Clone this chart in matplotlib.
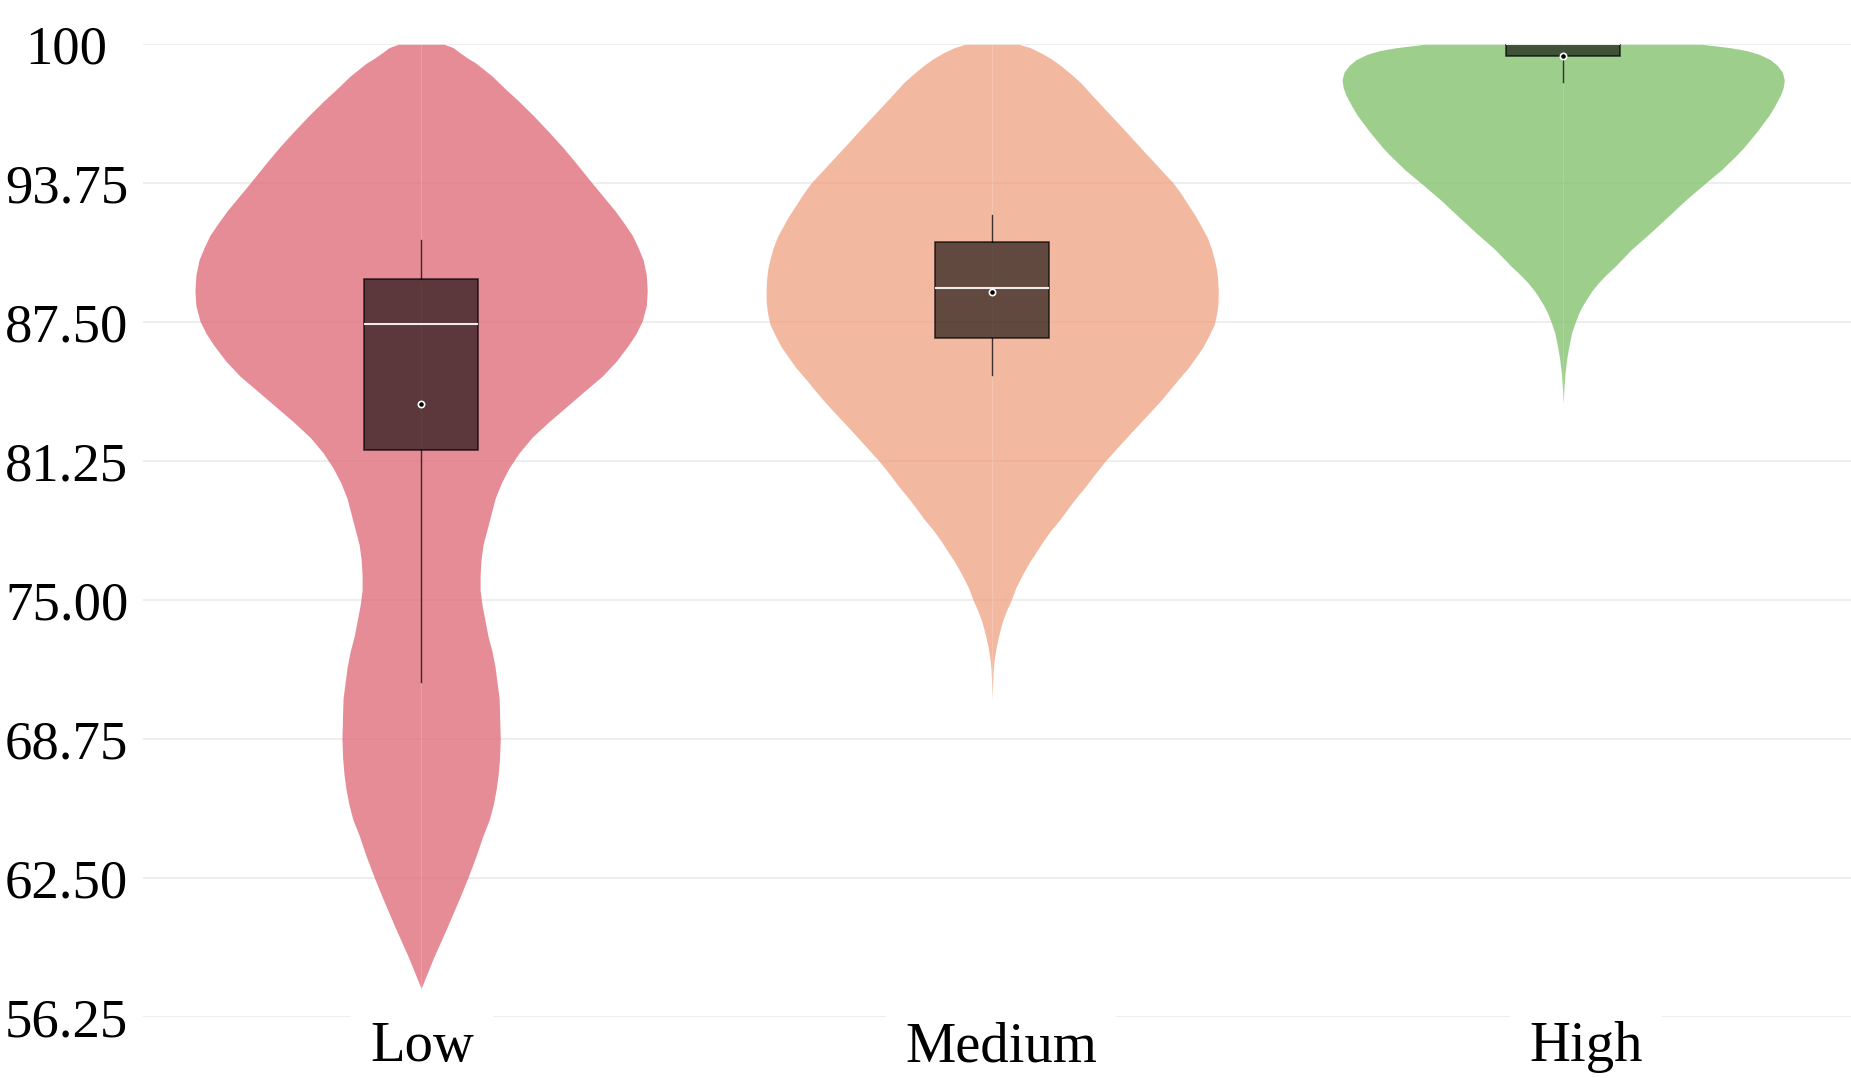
import matplotlib.pyplot as plt
import matplotlib.transforms as mtransforms
import numpy as np

plt.rcParams['font.family'] = ['Liberation Serif', 'DejaVu Serif']

categories = ['Low', 'Medium', 'High']
colors = ['#DE6673', '#F0A080', '#7CBE66']

# violin outlines: score value and relative density (1 = widest)
low_y = [100.0, 99.85, 99.65, 99.39, 99.15, 98.57, 98.0, 97.47, 96.8, 96.09, 95.4, 94.71,
         93.75, 93.1, 92.51, 91.95, 91.41, 90.85, 90.31, 89.62, 88.93, 88.25, 87.56, 87.0,
         86.46, 85.75, 85.08, 84.39, 83.7, 83.0, 82.33, 81.64, 80.95, 80.26, 79.57, 78.9,
         78.2, 77.5, 76.82, 76.13, 75.44, 74.76, 74.07, 73.38, 72.69, 72.0, 71.31, 70.6,
         69.94, 68.78, 67.9, 67.18, 66.5, 65.81, 65.12, 64.43, 63.5, 62.56, 61.68, 60.3,
         58.93, 57.55]
low_d = [0.102, 0.142, 0.168, 0.204, 0.243, 0.314, 0.372, 0.429, 0.496, 0.562, 0.624, 0.681,
         0.757, 0.810, 0.858, 0.898, 0.934, 0.960, 0.982, 0.996, 1.0, 0.996, 0.978, 0.951,
         0.916, 0.863, 0.801, 0.721, 0.642, 0.562, 0.491, 0.434, 0.389, 0.354, 0.327, 0.310,
         0.292, 0.274, 0.265, 0.261, 0.261, 0.270, 0.283, 0.296, 0.314, 0.327, 0.336, 0.345,
         0.347, 0.350, 0.347, 0.341, 0.332, 0.319, 0.301, 0.274, 0.243, 0.208, 0.173, 0.115,
         0.055, 0.0]

med_y = [100.0, 99.85, 99.61, 99.35, 99.03, 98.65, 98.25, 97.75, 97.27, 96.78, 96.3, 95.81,
         95.32, 94.83, 94.34, 93.76, 93.27, 92.78, 92.3, 91.81, 91.32, 90.83, 90.35, 89.86,
         89.35, 88.88, 88.37, 87.91, 87.4, 86.93, 86.42, 85.96, 85.45, 84.98, 84.5, 84.01,
         83.52, 83.03, 82.55, 82.06, 81.26, 80.7, 80.11, 79.62, 79.14, 78.65, 78.16, 77.67,
         77.18, 76.7, 76.21, 75.6, 75.0, 74.5, 74.07, 73.5, 72.9, 72.4, 71.92, 71.2, 70.55]
med_d = [0.119, 0.168, 0.217, 0.261, 0.305, 0.350, 0.394, 0.438, 0.482, 0.527, 0.571, 0.615,
         0.659, 0.704, 0.748, 0.801, 0.836, 0.867, 0.898, 0.925, 0.951, 0.969, 0.982, 0.993,
         0.998, 1.0, 0.999, 0.993, 0.982, 0.960, 0.934, 0.903, 0.867, 0.827, 0.788, 0.748,
         0.704, 0.659, 0.615, 0.571, 0.500, 0.456, 0.412, 0.372, 0.336, 0.301, 0.261, 0.226,
         0.195, 0.164, 0.137, 0.106, 0.084, 0.062, 0.046, 0.031, 0.018, 0.010, 0.005, 0.002, 0.0]

high_y = [100.0, 99.93, 99.84, 99.72, 99.55, 99.31, 99.05, 98.75, 98.4, 98.05, 97.7, 97.21,
          96.83, 96.46, 96.09, 95.71, 95.33, 94.96, 94.35, 93.75, 93.02, 92.27, 91.52, 90.77,
          90.02, 89.64, 89.27, 88.9, 88.52, 88.22, 87.92, 87.47, 87.02, 86.42, 85.82, 85.22,
          84.47, 83.87]
high_d = [0.611, 0.673, 0.743, 0.810, 0.867, 0.916, 0.947, 0.969, 0.978, 0.973, 0.960, 0.934,
          0.912, 0.885, 0.858, 0.827, 0.796, 0.761, 0.699, 0.628, 0.544, 0.465, 0.385, 0.301,
          0.230, 0.190, 0.155, 0.126, 0.102, 0.084, 0.069, 0.052, 0.037, 0.025, 0.015, 0.008,
          0.003, 0.0]

# box plot summary per group
q1 = [81.76, 86.81, 99.47]
medians = [87.41, 89.06, 100.0]
q3 = [89.46, 91.12, 100.0]
whislo = [71.34, 85.13, 98.32]
whishi = [91.20, 92.32, 100.0]
means = [83.81, 88.86, 99.49]

yticks = [56.25, 62.5, 68.75, 75.0, 81.25, 87.5, 93.75, 100.0]
ytick_labels = ['56.25', '62.50', '68.75', '75.00', '81.25', '87.50', '93.75', '100']

fig = plt.figure(figsize=(18.51, 10.78), dpi=100)
ax = fig.add_axes([143 / 1851, 0.0563, 1708 / 1851, 0.9026])

half_width = 0.396
profiles = [(low_y, low_d), (med_y, med_d), (high_y, high_d)]
for i, (ys, ds) in enumerate(profiles):
    hw = np.array(ds) * half_width
    # two halves, like the original, which leaves a faint seam in the middle
    ax.fill_betweenx(ys, i - hw, i, color=colors[i], alpha=0.75, linewidth=0, zorder=1)
    ax.fill_betweenx(ys, i, i + hw, color=colors[i], alpha=0.75, linewidth=0, zorder=1)

stats = []
for i in range(3):
    stats.append(dict(med=medians[i], q1=q1[i], q3=q3[i], whislo=whislo[i],
                      whishi=whishi[i], mean=means[i]))
ax.bxp(stats, positions=[0, 1, 2], widths=0.2, patch_artist=True, showmeans=True,
       showcaps=False, showfliers=False, manage_ticks=False,
       boxprops=dict(facecolor=(0, 0, 0, 0.6), edgecolor=(0, 0, 0, 0.7), linewidth=1.2),
       medianprops=dict(color='white', alpha=0.9, linewidth=1.5),
       whiskerprops=dict(color=(0, 0, 0, 0.75), linewidth=1.0),
       meanprops=dict(marker='o', markerfacecolor='black', markeredgecolor='white',
                      markersize=4.5, markeredgewidth=1.2))

ax.set_xlim(-0.487, 2.504)
ax.set_ylim(56.25, 100)
ax.set_xticks([0, 1, 2], categories)
ax.set_yticks(yticks, ytick_labels)

ax.grid(axis='y', color='#EBEBEB', linewidth=1.2)
ax.grid(axis='x', visible=False)
ax.set_axisbelow(True)
ax.yaxis.set_zorder(0.4)
ax.xaxis.set_zorder(0.6)
for s in ax.spines.values():
    s.set_visible(False)

ax.tick_params(axis='y', length=0, labelsize=39.4, pad=55)
ax.tick_params(axis='x', length=0, labelsize=40.8, pad=3)
for lbl in ax.get_yticklabels():
    lbl.set_horizontalalignment('center')

# the category labels sit a little right of the violins in the original
label_shift_px = [1, 9, 23]
for lbl, dx in zip(ax.get_xticklabels(), label_shift_px):
    lbl.set_bbox(dict(facecolor='white', edgecolor='none', pad=14))
    lbl.set_transform(lbl.get_transform() + mtransforms.ScaledTranslation(dx / 100, 0, fig.dpi_scale_trans))

fig.savefig('out.png', dpi=100, facecolor='white')
